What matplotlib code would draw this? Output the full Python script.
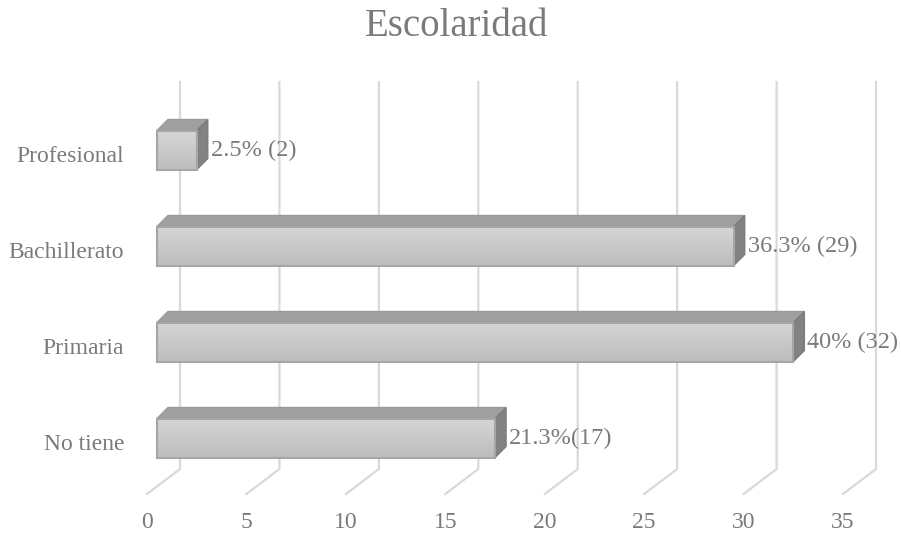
import numpy as np
import matplotlib.pyplot as plt
from matplotlib.colors import LinearSegmentedColormap
from matplotlib.patches import Polygon, Rectangle

# education level counts (n = 80)
categories = ['No tiene', 'Primaria', 'Bachillerato', 'Profesional']
counts = [17, 32, 29, 2]
value_labels = ['21.3%(17)', '40% (32)', '36.3% (29)', '2.5% (2)']
ticks = [0, 5, 10, 15, 20, 25, 30, 35]

W, H = 901, 535
PX = 19.886          # pixels per unit on the value axis
ROW = 96.0           # pixels between category rows
X0, Y0 = 157, 438    # pixel of value 0 / first category centre


def ux(px):
    return px / PX


def uy(px):
    return px / ROW


fig = plt.figure(figsize=(W / 100, H / 100), dpi=100)
ax = fig.add_axes([0, 0, 1, 1])
ax.axis('off')

font = dict(family='Liberation Serif', color='#7a7a7a')
grid_c = '#d9d9d9'
face_cmap = LinearSegmentedColormap.from_list('face', ['#d6d6d6', '#bdbdbd'])

# back wall grid lines and the floor lines running toward the viewer
wall_dx = ux(23)
wall_top = uy(Y0 - 82)
wall_bot = -uy(469 - Y0)
floor_dx = -ux(10)
floor_bot = -uy(494 - Y0)
for t in ticks:
    ax.plot([t + wall_dx, t + wall_dx, t + floor_dx],
            [wall_top, wall_bot, floor_bot],
            color=grid_c, lw=1.6, solid_joinstyle='miter', zorder=1)
    ax.text(t + floor_dx, -uy(522 - Y0), str(t), ha='center', va='center',
            fontsize=17, **font)

# 3D bars: front face with gradient, darker top and side faces
bh = uy(39)
dx, dy = ux(11), uy(11)
grad = np.linspace(0, 1, 64).reshape(-1, 1)
for i, (v, lab) in enumerate(zip(counts, value_labels)):
    y0, y1 = i - bh / 2, i + bh / 2
    top = Polygon([(0, y1), (v, y1), (v + dx, y1 + dy), (dx, y1 + dy)],
                  closed=True, fc='#a0a0a0', ec='#999999', lw=1, zorder=3)
    side = Polygon([(v, y0), (v, y1), (v + dx, y1 + dy), (v + dx, y0 + dy)],
                   closed=True, fc='#828282', ec='#7c7c7c', lw=1, zorder=3)
    ax.add_patch(top)
    ax.add_patch(side)
    img = ax.imshow(grad, extent=[0, v, y0, y1], cmap=face_cmap,
                    aspect='auto', origin='upper', zorder=4, interpolation='bilinear')
    front = Rectangle((0, y0), v, bh, fc='none', ec='#a6a6a6', lw=1.5, zorder=5)
    ax.add_patch(front)
    img.set_clip_path(front)
    ax.text(v + dx + ux(3), i, lab, ha='left', va='center', fontsize=17.5, **font)
    ax.text(-ux(157 - 124), i - uy(7), categories[i], ha='right', va='center',
            fontsize=17, **font)

ax.set_xlim(-X0 / PX, (W - X0) / PX)
ax.set_ylim(-(H - Y0) / ROW, Y0 / ROW)

fig.text(457 / W, 1 - 27 / H, 'Escolaridad', ha='center', va='center',
         fontsize=28, **font)

fig.savefig('out.png', dpi=100)
